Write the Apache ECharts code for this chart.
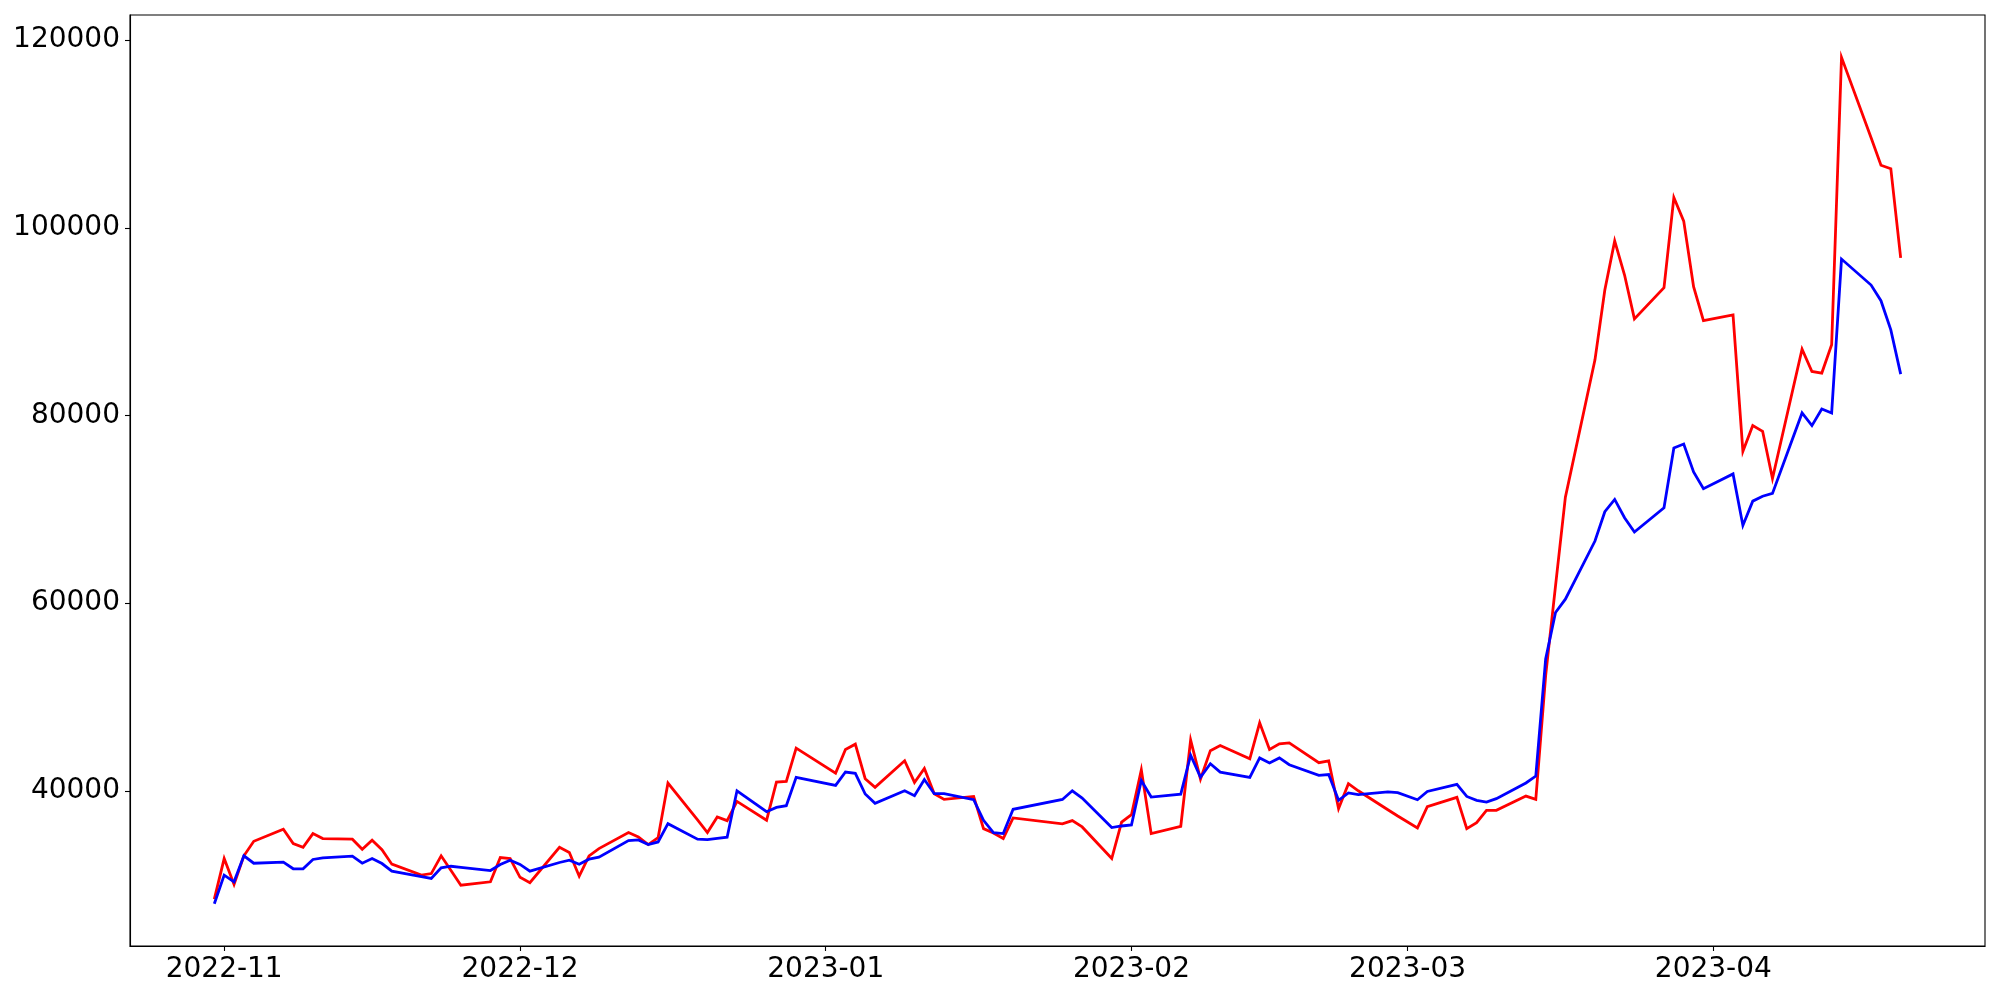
<!DOCTYPE html>
<html>
<head>
<meta charset="utf-8">
<script src="https://cdn.jsdelivr.net/npm/echarts@6/dist/echarts.min.js"></script>
<style>
html,body{margin:0;padding:0;background:#fff;}
#chart{width:2000px;height:1000px;}
</style>
</head>
<body>
<div id="chart"></div>
<script>
const dates = [
'2022-10-31',
'2022-11-01','2022-11-02','2022-11-03','2022-11-04',
'2022-11-07','2022-11-08','2022-11-09','2022-11-10','2022-11-11',
'2022-11-14','2022-11-15','2022-11-16','2022-11-17','2022-11-18',
'2022-11-21','2022-11-22','2022-11-23','2022-11-24','2022-11-25',
'2022-11-28','2022-11-29','2022-11-30',
'2022-12-01','2022-12-02',
'2022-12-05','2022-12-06','2022-12-07','2022-12-08','2022-12-09',
'2022-12-12','2022-12-13','2022-12-14','2022-12-15','2022-12-16',
'2022-12-19','2022-12-20','2022-12-21','2022-12-22','2022-12-23',
'2022-12-26','2022-12-27','2022-12-28','2022-12-29',
'2023-01-02','2023-01-03','2023-01-04','2023-01-05','2023-01-06',
'2023-01-09','2023-01-10','2023-01-11','2023-01-12','2023-01-13',
'2023-01-16','2023-01-17','2023-01-18','2023-01-19','2023-01-20',
'2023-01-25','2023-01-26','2023-01-27',
'2023-01-30','2023-01-31',
'2023-02-01','2023-02-02','2023-02-03',
'2023-02-06','2023-02-07','2023-02-08','2023-02-09','2023-02-10',
'2023-02-13','2023-02-14','2023-02-15','2023-02-16','2023-02-17',
'2023-02-20','2023-02-21','2023-02-22','2023-02-23','2023-02-24',
'2023-02-27','2023-02-28',
'2023-03-02','2023-03-03',
'2023-03-06','2023-03-07','2023-03-08','2023-03-09','2023-03-10',
'2023-03-13','2023-03-14','2023-03-15','2023-03-16','2023-03-17',
'2023-03-20','2023-03-21','2023-03-22','2023-03-23','2023-03-24',
'2023-03-27','2023-03-28','2023-03-29','2023-03-30','2023-03-31',
'2023-04-03','2023-04-04','2023-04-05','2023-04-06','2023-04-07',
'2023-04-10','2023-04-11','2023-04-12','2023-04-13','2023-04-14',
'2023-04-17','2023-04-18','2023-04-19','2023-04-20'
];

const redValues = [
28450,
32780,30020,33070,34620,
35900,34380,33980,35440,34910,
34840,33770,34730,33730,32180,
31010,31180,33070,31500,29940,
30300,32890,32780,
30780,30200,
33980,33420,30900,33070,33840,
35550,35090,34270,35010,40830,
36900,35550,37210,36820,38870,
36860,40930,41000,44550,
41890,44400,44970,41290,40370,
43200,40890,42380,39690,39080,
39400,35970,35510,34910,37110,
36470,36820,36150,
32780,36670,
37450,42240,35440,
36220,45400,41250,44280,44830,
43410,47250,44400,45000,45110,
43000,43200,38100,40760,40000,
37980,37310,
36040,38300,
39300,35970,36610,37920,37920,
39440,39090,52270,61830,71300,
85930,93370,98610,94970,90290,
93620,103230,100710,93720,90110,
90720,76180,78920,78310,73280,
87070,84690,84520,87530,118170,
109600,106670,106300,96800
];

const blueValues = [
27970,
31010,30300,33070,32280,
32390,31690,31690,32680,32850,
33030,32280,32780,32250,31430,
30850,30660,31790,31960,31850,
31500,32140,32600,
32160,31430,
32360,32600,32180,32710,32920,
34700,34770,34270,34550,36500,
34840,34800,34940,35050,40000,
37770,38230,38410,41430,
40580,42000,41860,39660,38660,
40000,39470,41200,39690,39690,
39050,36860,35550,35440,38030,
39080,40000,39230,
36080,36250,
36360,41100,39330,
39650,43800,41440,42890,41990,
41430,43500,42960,43500,42780,
41640,41730,38990,39770,39600,
39880,39800,
39050,39930,
40680,39400,38990,38800,39160,
40830,41570,54040,59000,60420,
66620,69740,71050,69100,67580,
70170,76540,76960,73980,72190,
73770,68280,70870,71390,71690,
80270,78920,80690,80270,96670,
93900,92230,89120,84410
];

const xTickLabels = ['2022-11','2022-12','2023-01','2023-02','2023-03','2023-04'];
const yTickValues = [40000, 60000, 80000, 100000, 120000];

function toTs(s){ const p = s.split('-').map(Number); return Date.UTC(p[0], p[1]-1, p[2] || 1); }
const ts = dates.map(toTs);
const tMin = ts[0], tMax = ts[ts.length-1];
const xMargin = (tMax - tMin) * 0.05;
const allVals = redValues.concat(blueValues);
const vMin = Math.min.apply(null, allVals), vMax = Math.max.apply(null, allVals);
const yMargin = (vMax - vMin) * 0.05;
const xTicks = xTickLabels.map(l => toTs(l + '-01'));
const tickLabelMap = {};
xTicks.forEach((t,i)=>{ tickLabelMap[t] = xTickLabels[i]; });

const chart = echarts.init(document.getElementById('chart'), null, {renderer:'canvas'});
const fontFam = 'DejaVu Sans';
chart.setOption({
  animation: false,
  backgroundColor: '#ffffff',
  grid: {left:130, right:15, top:15, bottom:54, show:true, borderColor:'#000', borderWidth:1.1, backgroundColor:'transparent'},
  xAxis: {
    type: 'value',
    min: tMin - xMargin,
    max: tMax + xMargin,
    axisLine: {show:true, onZero:false, lineStyle:{color:'#000', width:1.1}},
    axisTick: {show:true, length:5, lineStyle:{color:'#000', width:1.1}, customValues: xTicks},
    axisLabel: {
      show:true, margin:10, color:'#000', fontSize:28, fontFamily:fontFam,
      customValues: xTicks,
      formatter: function(v){ return tickLabelMap[v] !== undefined ? tickLabelMap[v] : ''; }
    },
    splitLine: {show:false}
  },
  yAxis: {
    type: 'value',
    min: vMin - yMargin,
    max: vMax + yMargin,
    axisLine: {show:true, lineStyle:{color:'#000', width:1.1}},
    axisTick: {show:true, length:5, lineStyle:{color:'#000', width:1.1}, customValues: yTickValues},
    axisLabel: {show:true, margin:10, color:'#000', fontSize:28, fontFamily:fontFam, customValues: yTickValues,
      formatter: function(v){ return String(v); }},
    splitLine: {show:false}
  },
  series: [
    {type:'line', name:'red', data: ts.map((t,i)=>[t, redValues[i]]), showSymbol:false, symbol:'none',
      lineStyle:{color:'#ff0000', width:2.8, cap:'butt', join:'miter'}, itemStyle:{color:'#ff0000'}, z:2},
    {type:'line', name:'blue', data: ts.map((t,i)=>[t, blueValues[i]]), showSymbol:false, symbol:'none',
      lineStyle:{color:'#0000ff', width:2.8, cap:'butt', join:'miter'}, itemStyle:{color:'#0000ff'}, z:3}
  ]
});
</script>
</body>
</html>
